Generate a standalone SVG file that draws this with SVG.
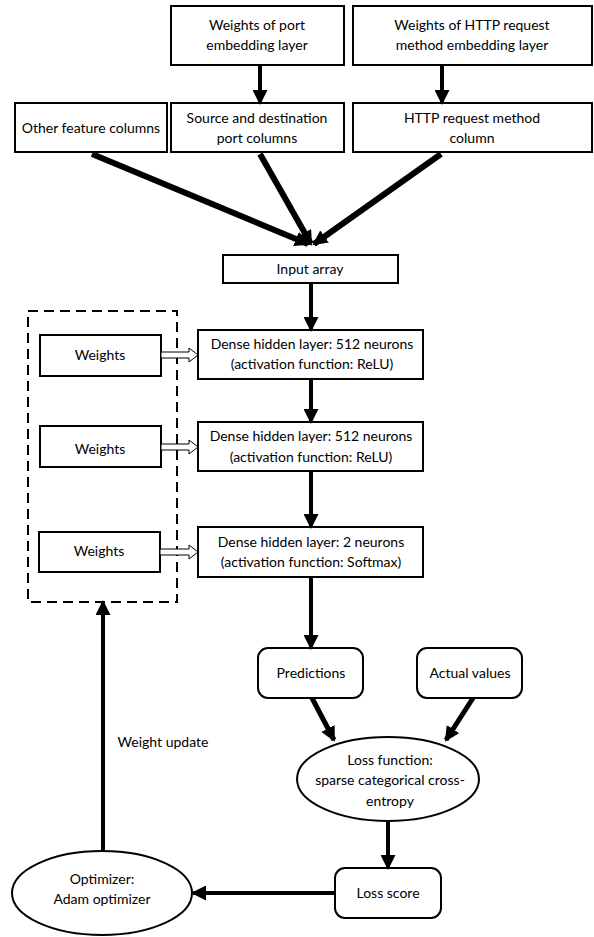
<svg xmlns="http://www.w3.org/2000/svg" width="594" height="937" viewBox="0 0 594 937">
<style>
.b{fill:#fff;stroke:#000;stroke-width:2}
.t{font-family:Lato,"Liberation Sans",sans-serif;font-size:14px;fill:#000;text-anchor:middle}
.c{stroke:#000;fill:none}
.h{fill:#fff;stroke:#000;stroke-width:1}
</style>
<defs>
<marker id="a" markerUnits="userSpaceOnUse" markerWidth="15" markerHeight="15" refX="13" refY="7.5" orient="auto" viewBox="0 0 15 15"><path d="M0,0L15,7.5L0,15z" fill="#000"/></marker>
</defs>
<rect x="0" y="0" width="594" height="937" fill="#fff"/>
<g id="n-port-w"><rect class="b" x="171" y="6" width="173" height="59"/><text class="t" x="257" y="30">Weights of port</text><text class="t" x="257" y="50">embedding layer</text></g>
<g id="n-http-w"><rect class="b" x="353" y="6" width="239" height="59"/><text class="t" x="472" y="30">Weights of HTTP request</text><text class="t" x="472" y="50">method embedding layer</text></g>
<g id="n-other"><rect class="b" x="15" y="103" width="152" height="49"/><text class="t" x="91" y="133">Other feature columns</text></g>
<g id="n-port"><rect class="b" x="171" y="103" width="173" height="49"/><text class="t" x="257" y="123">Source and destination</text><text class="t" x="257" y="143">port columns</text></g>
<g id="n-http"><rect class="b" x="353" y="103" width="239" height="49"/><text class="t" x="472" y="123">HTTP request method</text><text class="t" x="472" y="143">column</text></g>
<g id="n-input"><rect class="b" x="223" y="255" width="175" height="28"/><text class="t" x="310" y="274">Input array</text></g>
<g id="n-dense1"><rect class="b" x="198" y="330" width="225" height="49"/><text class="t" x="312" y="349">Dense hidden layer: 512 neurons</text><text class="t" x="312" y="369">(activation function: ReLU)</text></g>
<g id="n-dense2"><rect class="b" x="198" y="422" width="225" height="49"/><text class="t" x="311" y="441">Dense hidden layer: 512 neurons</text><text class="t" x="311" y="462">(activation function: ReLU)</text></g>
<g id="n-dense3"><rect class="b" x="198" y="527" width="225" height="50"/><text class="t" x="311" y="547">Dense hidden layer: 2 neurons</text><text class="t" x="311" y="567">(activation function: Softmax)</text></g>
<g id="n-weights-group"><rect x="28" y="311" width="149" height="291" fill="none" stroke="#000" stroke-width="2" stroke-dasharray="10,6"/></g>
<g id="n-w1"><rect class="b" x="40" y="335" width="121" height="41"/><text class="t" x="100" y="360">Weights</text></g>
<g id="n-w2"><rect class="b" x="40" y="426" width="121" height="41"/><text class="t" x="100" y="454">Weights</text></g>
<g id="n-w3"><rect class="b" x="39" y="532" width="121" height="40"/><text class="t" x="99" y="556">Weights</text></g>
<g id="n-pred"><rect class="b" x="258" y="648" width="105" height="50" rx="10"/><text class="t" x="311" y="678">Predictions</text></g>
<g id="n-actual"><rect class="b" x="417" y="648" width="105" height="50" rx="10"/><text class="t" x="470" y="678">Actual values</text></g>
<g id="n-loss"><ellipse class="b" cx="388" cy="779" rx="91" ry="42"/><text class="t" x="390" y="765">Loss function:</text><text class="t" x="390" y="785">sparse categorical cross-</text><text class="t" x="390" y="806">entropy</text></g>
<g id="n-score"><rect class="b" x="335" y="868" width="106" height="50" rx="10"/><text class="t" x="388" y="898">Loss score</text></g>
<g id="n-opt"><ellipse class="b" cx="102" cy="893" rx="90" ry="42"/><text class="t" x="102" y="884">Optimizer:</text><text class="t" x="102" y="904">Adam optimizer</text></g>
<g id="connectors">
<line class="c" stroke-width="4" x1="260" y1="65" x2="260" y2="103" marker-end="url(#a)"/>
<line class="c" stroke-width="4" x1="442" y1="65" x2="442" y2="103" marker-end="url(#a)"/>
<line class="c" stroke-width="6" x1="92" y1="154" x2="308" y2="244" marker-end="url(#a)"/>
<line class="c" stroke-width="6" x1="260" y1="154" x2="311" y2="244" marker-end="url(#a)"/>
<line class="c" stroke-width="6" x1="441" y1="154" x2="314" y2="244" marker-end="url(#a)"/>
<line class="c" stroke-width="4" x1="311" y1="283" x2="311" y2="330" marker-end="url(#a)"/>
<line class="c" stroke-width="4" x1="311" y1="379" x2="311" y2="422" marker-end="url(#a)"/>
<line class="c" stroke-width="4" x1="311" y1="471" x2="311" y2="527" marker-end="url(#a)"/>
<line class="c" stroke-width="4" x1="311" y1="577" x2="311" y2="648" marker-end="url(#a)"/>
<polygon class="h" points="161,352 189,352 189,348 198,355 189,362 189,358 161,358"/>
<polygon class="h" points="161,444 189,444 189,440 198,447 189,454 189,450 161,450"/>
<polygon class="h" points="160,549 189,549 189,545 198,552 189,559 189,555 160,555"/>
<line class="c" stroke-width="5" x1="312" y1="698" x2="334" y2="740" marker-end="url(#a)"/>
<line class="c" stroke-width="5" x1="473" y1="698" x2="446" y2="740" marker-end="url(#a)"/>
<line class="c" stroke-width="4" x1="388" y1="821" x2="388" y2="868" marker-end="url(#a)"/>
<line class="c" stroke-width="4" x1="335" y1="893" x2="193" y2="893" marker-end="url(#a)"/>
<line class="c" stroke-width="4" x1="103" y1="851" x2="103" y2="602" marker-end="url(#a)"/>
<text class="t" x="163" y="747">Weight update</text>
</g>
</svg>
